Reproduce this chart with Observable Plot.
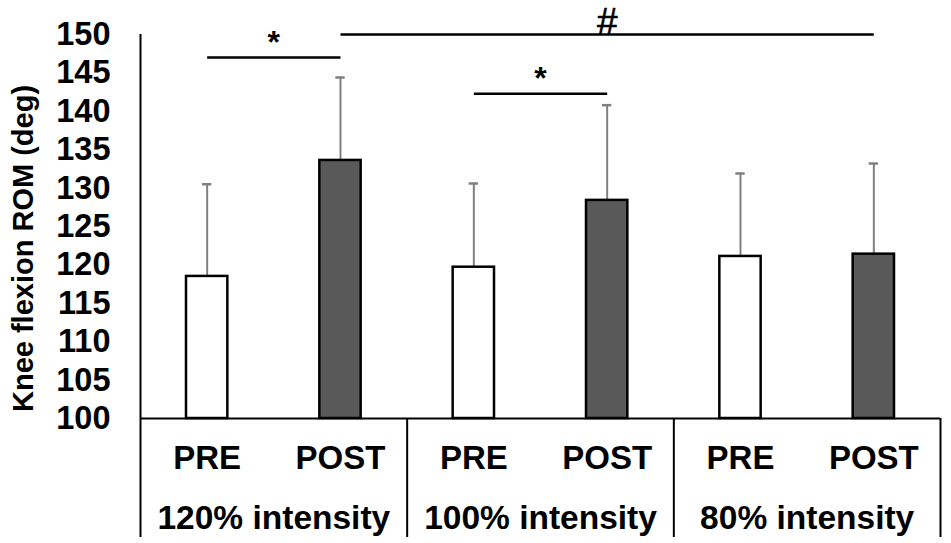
<!DOCTYPE html>
<html>
<head>
<meta charset="utf-8">
<script src="https://cdn.jsdelivr.net/npm/d3@7"></script>
<script src="https://cdn.jsdelivr.net/npm/@observablehq/plot@0.6"></script>
<style>
  html, body { margin: 0; padding: 0; background: #ffffff; }
  #chart svg { display: block; }
</style>
</head>
<body>
<div id="chart"></div>
<script>
// ---- data ----
const categories = ["PRE", "POST", "PRE", "POST", "PRE", "POST"];
const groups = ["120% intensity", "100% intensity", "80% intensity"];
const means = [118.5, 133.6, 119.7, 128.4, 121.1, 121.4];
const sds = [12.0, 10.8, 10.9, 12.4, 10.8, 11.8];
const yTicks = [100, 105, 110, 115, 120, 125, 130, 135, 140, 145, 150];
const yLabel = "Knee flexion ROM (deg)";
const sigFrom = [0, 2, 1];
const sigTo = [1, 3, 5];
const sigLevel = [147.0, 142.3, 150.0];
const sigLabel = ["*", "*", "#"];

// ---- derived tables ----
const perGroup = categories.length / groups.length;
const bars = categories.map((c, i) => ({
  i, phase: c, mean: means[i], sd: sds[i], top: means[i] + sds[i]
}));
const groupRows = groups.map((g, k) => ({ g, mid: k * perGroup + perGroup / 2 }));
const boundaries = d3.range(perGroup, categories.length + 1, perGroup);
const sig = sigFrom.map((f, k) => ({
  x1: f + 0.5, x2: sigTo[k] + 0.5, y: sigLevel[k], label: sigLabel[k],
  mid: (f + sigTo[k]) / 2 + 0.5
}));
const base = yTicks[0];

const font = "'Liberation Sans', Arial, Helvetica, sans-serif";

const chart = Plot.plot({
  width: 951,
  height: 543,
  marginLeft: 140,
  marginRight: 11,
  marginTop: 34,
  marginBottom: 125,
  x: { domain: [0, categories.length], axis: null },
  y: { domain: [yTicks[0], yTicks[yTicks.length - 1]], axis: null },
  style: { fontFamily: font, background: "#ffffff", color: "#000000" },
  marks: [
    // y axis tick labels
    Plot.axisY(yTicks, {
      ticks: yTicks, tickSize: 0, tickPadding: 30,
      fontSize: 32.5, fontWeight: "bold", label: null, fill: "#000"
    }),
    // y axis title
    Plot.text([yLabel], {
      frameAnchor: "left", textAnchor: "middle", lineAnchor: "middle",
      rotate: -90, dx: -117, dy: 22,
      fontSize: 29, fontWeight: "bold", fill: "#000"
    }),
    // error bars
    Plot.ruleX(bars, {
      x: d => d.i + 0.5, y1: "mean", y2: "top",
      stroke: "#808080", strokeWidth: 2
    }),
    Plot.ruleY(bars, {
      y: "top", x1: d => d.i, x2: d => d.i + 1,
      insetLeft: 62, insetRight: 62, stroke: "#808080", strokeWidth: 2.5
    }),
    // bars
    Plot.rectY(bars, {
      x1: d => d.i, x2: d => d.i + 1, y1: base, y2: "mean",
      insetLeft: 46, insetRight: 46,
      fill: d => d.phase === "PRE" ? "#ffffff" : "#595959",
      stroke: "#000", strokeWidth: 2.5
    }),
    // axis line (extends into the table below)
    Plot.ruleX([0], { stroke: "#000", strokeWidth: 2, insetBottom: -119 }),
    // baseline / table top
    Plot.ruleY([base], { stroke: "#000", strokeWidth: 2 }),
    // table separators
    Plot.ruleX(boundaries, { y1: base, y2: base, insetBottom: -119, stroke: "#000", strokeWidth: 2 }),
    // phase labels
    Plot.text(bars, {
      x: d => d.i + 0.5, y: base, text: "phase", dy: 40,
      fontSize: 33, fontWeight: "bold", fill: "#000"
    }),
    // group labels
    Plot.text(groupRows, {
      x: "mid", y: base, text: "g", dy: 100,
      fontSize: 33.5, fontWeight: "bold", fill: "#000"
    }),
    // significance lines
    Plot.link(sig, {
      x1: "x1", x2: "x2", y1: "y", y2: "y",
      stroke: "#000", strokeWidth: 2.5
    }),
    Plot.text(sig.filter(d => d.label === "*"), {
      x: "mid", y: "y", text: "label", lineAnchor: "bottom", dy: -5,
      fontSize: 32, fontWeight: "bold", fill: "#000"
    }),
    Plot.text(sig.filter(d => d.label === "#"), {
      x: "mid", y: "y", text: "label", lineAnchor: "bottom", dy: -1,
      fontSize: 37, fill: "#000", stroke: "#000", strokeWidth: 0.6
    })
  ]
});
document.getElementById("chart").appendChild(chart);
</script>
</body>
</html>
